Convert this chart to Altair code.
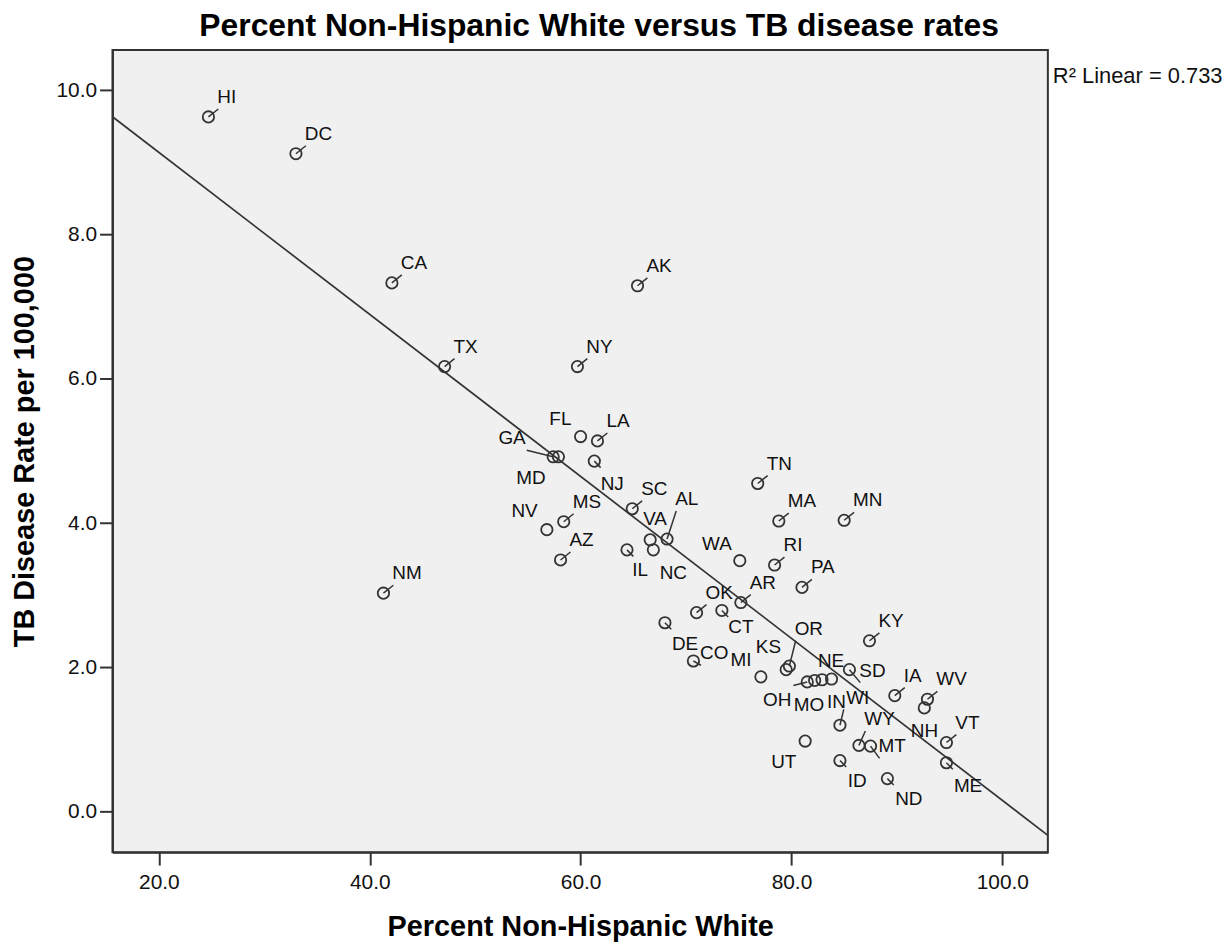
import altair as alt
import pandas as pd

FONT = "Liberation Sans"

TITLE = "Percent Non-Hispanic White versus TB disease rates"
X_TITLE = "Percent Non-Hispanic White"
Y_TITLE = "TB Disease Rate per 100,000"
R2_TEXT = "R\u00b2 Linear = 0.733"

states = ["HI", "DC", "CA", "TX", "AK", "NY", "NM", "GA", "MD", "FL", "LA", "NJ", "SC",
          "MS", "NV", "AZ", "IL", "VA", "NC", "AL", "WA", "TN", "MA", "MN", "RI", "PA",
          "AR", "OK", "CT", "DE", "CO", "MI", "KS", "OR", "OH", "MO", "WI", "NE", "SD",
          "IN", "KY", "IA", "WV", "NH", "VT", "ME", "ND", "ID", "UT", "WY", "MT"]
pct_white = [24.7, 33.0, 42.1, 47.1, 65.4, 59.7, 41.3, 57.4, 57.9, 60.0, 61.6, 61.3, 64.9,
             58.4, 56.8, 58.1, 64.4, 66.6, 66.9, 68.2, 75.1, 76.8, 78.8, 85.0, 78.4, 81.0,
             75.2, 71.0, 73.4, 68.0, 70.7, 77.1, 79.5, 79.8, 81.5, 82.2, 82.9, 83.8, 85.5,
             84.6, 87.4, 89.8, 92.9, 92.6, 94.7, 94.7, 89.1, 84.6, 81.3, 86.4, 87.5]
tb_rate = [9.63, 9.12, 7.33, 6.17, 7.29, 6.17, 3.03, 4.92, 4.92, 5.20, 5.14, 4.86, 4.20,
           4.02, 3.91, 3.49, 3.63, 3.77, 3.63, 3.78, 3.48, 4.55, 4.03, 4.04, 3.42, 3.11,
           2.90, 2.76, 2.79, 2.62, 2.09, 1.87, 1.97, 2.02, 1.80, 1.82, 1.83, 1.84, 1.97,
           1.20, 2.37, 1.61, 1.56, 1.44, 0.96, 0.68, 0.46, 0.71, 0.98, 0.92, 0.91]

x_ticks = [20, 40, 60, 80, 100]
y_ticks = [0, 2, 4, 6, 8, 10]
x_domain = [15.6, 104.32]
y_domain = [-0.559, 10.556]
reg_extent = [15.6, 104.32]

# label placement (data units): default upper-right of the point
LABEL_DX, LABEL_DY = 0.94, 0.11
label_override = {
    "GA": (54.89, 5.01, "right", True),
    "MD": (56.78, 4.46, "right", False),
    "FL": (57.13, 5.28, "left", False),
    "NJ": (62.00, 4.37, "left", False),
    "NV": (56.02, 4.00, "right", False),
    "IL": (64.99, 3.18, "left", False),
    "VA": (66.03, 3.89, "left", False),
    "NC": (67.60, 3.15, "left", False),
    "AL": (69.07, 4.17, "left", True),
    "WA": (74.43, 3.55, "right", False),
    "CT": (74.11, 2.40, "left", False),
    "DE": (68.76, 2.16, "left", False),
    "CO": (71.43, 2.03, "left", True),
    "MI": (76.31, 1.94, "right", False),
    "KS": (79.11, 2.12, "right", False),
    "OR": (80.40, 2.37, "left", True),
    "NE": (82.61, 1.93, "left", False),
    "SD": (86.53, 1.79, "left", True),
    "OH": (80.09, 1.38, "right", False),
    "MO": (80.31, 1.31, "left", False),
    "IN": (83.46, 1.36, "left", False),
    "WI": (85.28, 1.41, "left", False),
    "NH": (91.41, 0.95, "left", False),
    "ME": (95.50, 0.19, "left", False),
    "ND": (89.93, 0.01, "left", False),
    "ID": (85.44, 0.26, "left", False),
    "UT": (80.56, 0.53, "right", False),
    "WY": (87.01, 1.12, "left", True),
    "MT": (88.36, 0.74, "left", True),
}
lead_override = {"OH": (80.18, 1.75), "IN": (84.96, 1.42)}
tail_se = {"NJ", "IL", "CT", "DE", "ID", "ND", "ME"}

rows = []
for s, xv, yv in zip(states, pct_white, tb_rate):
    if s in label_override:
        lx, ly, align, lead = label_override[s]
    else:
        lx, ly, align, lead = xv + LABEL_DX, yv + LABEL_DY, "left", True
    ex, ey = lx, ly
    if s in lead_override:
        ex, ey = lead_override[s]
        lead = True
    elif s in tail_se:
        ex, ey = xv + 0.6, yv - 0.09
        lead = True
    rows.append(dict(state=s, pct_white=xv, tb_rate=yv, lab_x=lx, lab_y=ly,
                     align=align, lead=lead, lead_x=ex, lead_y=ey))
df = pd.DataFrame(rows)

INK = "#333333"
xscale = alt.Scale(domain=x_domain, nice=False, zero=False)
yscale = alt.Scale(domain=y_domain, nice=False, zero=False)

xaxis = alt.Axis(title=X_TITLE, values=x_ticks, format=".1f", grid=False,
                 tickSize=13, tickWidth=2, tickColor=INK, domainColor=INK, domainWidth=2,
                 labelFont=FONT, labelFontSize=21, labelColor="#111", labelPadding=7,
                 labelFlush=False, labelOverlap=False,
                 titleFont=FONT, titleFontSize=29, titleFontWeight="bold", titleColor="#000",
                 titleY=83.5, titleBaseline="alphabetic")
yaxis = alt.Axis(title=Y_TITLE, values=y_ticks, format=".1f", grid=False,
                 tickSize=13, tickWidth=2, tickColor=INK, domainColor=INK, domainWidth=2,
                 labelFont=FONT, labelFontSize=21, labelColor="#111", labelPadding=3,
                 labelFlush=False, labelOverlap=False,
                 titleFont=FONT, titleFontSize=29, titleFontWeight="bold", titleColor="#000",
                 titleAngle=270, titleX=-79.7, titleY=403, titleAlign="center",
                 titleBaseline="alphabetic")

base = alt.Chart(df)

points = base.mark_point(shape="circle", filled=False, size=130, strokeWidth=1.8,
                         color=INK, opacity=1).encode(
    x=alt.X("pct_white:Q", scale=xscale, axis=xaxis),
    y=alt.Y("tb_rate:Q", scale=yscale, axis=yaxis),
)

reg = base.transform_regression("pct_white", "tb_rate", extent=reg_extent).mark_line(
    color=INK, strokeWidth=1.7).encode(
    x=alt.X("pct_white:Q", scale=xscale, title=X_TITLE),
    y=alt.Y("tb_rate:Q", scale=yscale, title=Y_TITLE),
)

leaders = base.transform_filter("datum.lead").mark_rule(color=INK, strokeWidth=1.5).encode(
    x=alt.X("pct_white:Q", scale=xscale, title=X_TITLE),
    y=alt.Y("tb_rate:Q", scale=yscale, title=Y_TITLE),
    x2="lead_x:Q",
    y2="lead_y:Q",
)

def labels(al):
    return base.transform_filter(f"datum.align == '{al}'").mark_text(
        align=al, baseline="alphabetic", dx=-1, dy=-6, fontSize=19, font=FONT,
        color="#111").encode(
        x=alt.X("lab_x:Q", scale=xscale, title=X_TITLE),
        y=alt.Y("lab_y:Q", scale=yscale, title=Y_TITLE),
        text="state:N",
    )

r2 = alt.Chart(pd.DataFrame({"t": [R2_TEXT]})).mark_text(
    align="left", baseline="alphabetic", fontSize=22, font=FONT, color="#111").encode(
    x=alt.value(945), y=alt.value(33), text="t:N")

chart = alt.layer(reg, leaders, points, labels("left"), labels("right"), r2).properties(
    width=940, height=806,
    autosize="none",
    padding={"left": 105, "top": 40, "right": 175, "bottom": 88},
    title=alt.TitleParams(TITLE, font=FONT, fontSize=32, fontWeight="bold", color="#000",
                          anchor="middle", dx=19, offset=7),
).configure_view(fill="#F0F0F0", stroke=INK, strokeWidth=2)

chart.save("out.html", embed_options={"renderer": "svg", "actions": False})
